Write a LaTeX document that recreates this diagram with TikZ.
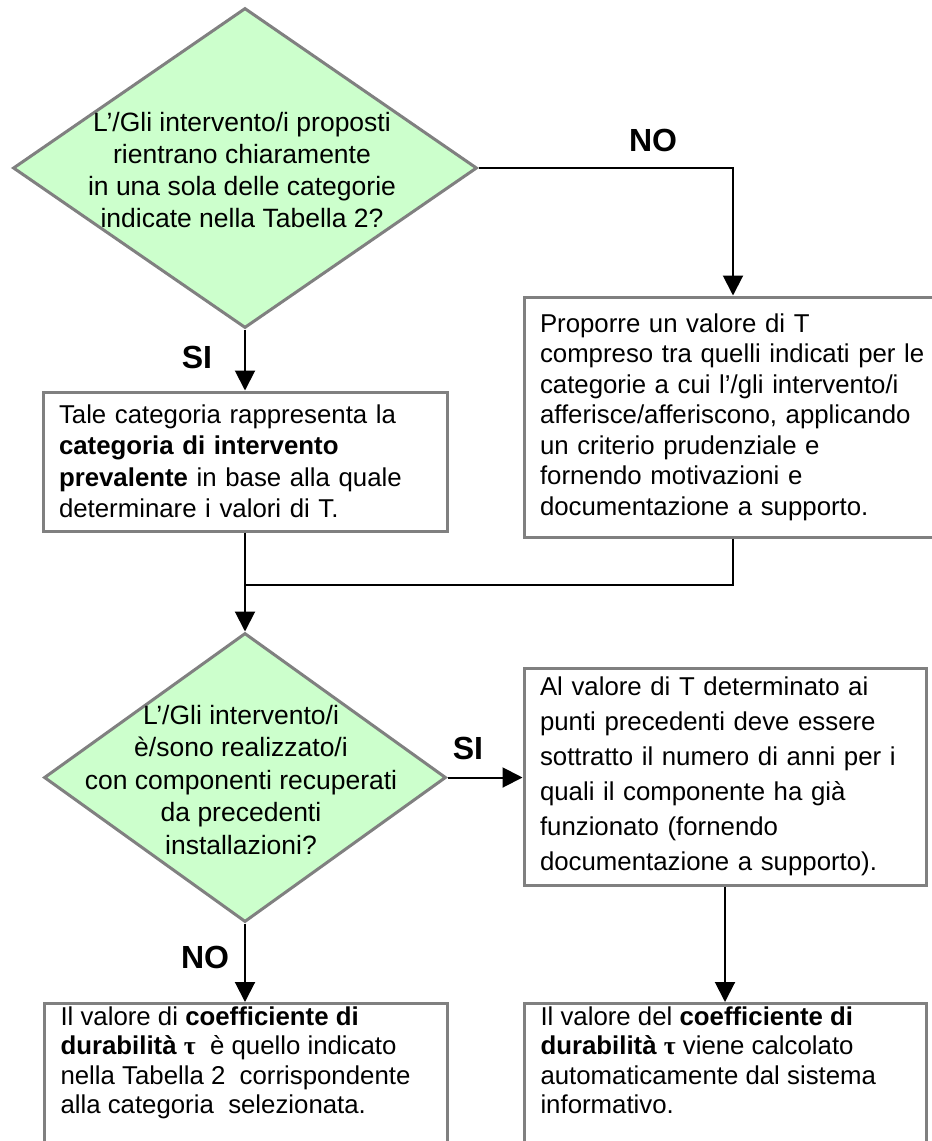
\documentclass[tikz,border=0pt]{standalone}
\usepackage{fontspec}
\setmainfont{Liberation Sans}
\newfontfamily\grkfont{Liberation Serif}
\usetikzlibrary{shapes.geometric,arrows.meta}
\definecolor{boxgray}{RGB}{128,128,128}
\definecolor{dgreen}{RGB}{204,255,204}
\newcommand{\tauB}{{\grkfont\bfseries τ}}
\begin{document}
\begin{tikzpicture}[x=1pt,y=-1pt,
  decision/.style={diamond, draw=boxgray, fill=dgreen, line width=3pt, inner sep=0pt},
  dtext/.style={align=center, inner sep=0pt},
  stepbox/.style={draw=boxgray, line width=3pt, fill=white, align=left, inner xsep=16pt, inner ysep=0pt},
  lbl/.style={font=\fontsize{32}{38}\selectfont\bfseries, inner sep=0pt},
  conn/.style={line width=2pt, draw=black},
  arr/.style={conn, -{Triangle[length=20pt,width=20pt]}}
]
\useasboundingbox (0,0) rectangle (932,1141);
\fill[white] (0,0) rectangle (932,1141);
\clip (0,0) rectangle (932,1141);

% first decision
\node[decision, minimum width=464pt, minimum height=320pt] (d1) at (245,168) {};
\node[dtext, font=\fontsize{26.5}{32}\selectfont] (d1t) at (242,170)
  {L’/Gli intervento/i proposti\\ rientrano chiaramente\\ in una sola delle categorie\\ indicate nella Tabella 2?};

% NO branch box
\node[stepbox, text width=386pt, minimum height=240pt, font=\fontsize{25.8}{30.5}\selectfont] (prop) at (733,417)
  {Proporre un valore di T\\ compreso tra quelli indicati per le\\ categorie a cui l’/gli intervento/i\\ afferisce/afferiscono, applicando\\ un criterio prudenziale e\\ fornendo motivazioni e\\ documentazione a supporto.};

% SI branch box
\node[stepbox, text width=372pt, minimum height=139pt, font=\fontsize{25.8}{31.5}\selectfont] (tale) at (245,461.5)
  {Tale categoria rappresenta la\\ \textbf{categoria di intervento}\\ \textbf{prevalente} in base alla quale\\ determinare i valori di T.};

% second decision
\node[decision, minimum width=402pt, minimum height=289pt] (d2) at (245,777.5) {};
\node[dtext, font=\fontsize{26.5}{32.5}\selectfont] (d2t) at (241,780)
  {L’/Gli intervento/i\\ è/sono realizzato/i\\ con componenti recuperati\\ da precedenti\\ installazioni?};

% SI branch box
\node[stepbox, text width=370pt, minimum height=217pt, font=\fontsize{25.8}{35}\selectfont] (alv) at (725,776.5)
  {Al valore di T determinato ai\\ punti precedenti deve essere\\ sottratto il numero di anni per i\\ quali il componente ha già\\ funzionato (fornendo\\ documentazione a supporto).};

% bottom boxes
\node[stepbox, anchor=north west, inner ysep=3pt] (bl) at (43,1002)
  {\parbox[c][170pt][t]{371pt}{\raggedright\fontsize{25.8}{29.5}\selectfont
   Il valore di \textbf{coefficiente di}\\ \textbf{durabilità} \tauB{}\ \ è quello indicato\\ nella Tabella 2\ \ corrispondente\\ alla categoria\ \ selezionata.}};
\node[stepbox, anchor=north west, inner ysep=3pt] (br) at (523,1002)
  {\parbox[c][170pt][t]{370pt}{\raggedright\fontsize{25.8}{29.5}\selectfont
   Il valore del \textbf{coefficiente di}\\ \textbf{durabilità} \tauB{} viene calcolato\\ automaticamente dal sistema\\ informativo.}};

% junction
\coordinate (j) at (245,585);

% connectors
\draw[arr] (d1.east) -| (prop.north);
\draw[arr] (d1.south) -- (tale.north);
\draw[arr] (tale.south) -- (d2.north);
\draw[conn] (prop.south) |- (j);
\draw[arr] (d2.east) -- (d2.east -| alv.west);
\draw[arr] (d2.south) -- (d2.south |- bl.north);
\draw[arr] (alv.south) -- (alv.south |- br.north);

% labels
\node[lbl] (no1) at (653,140) {NO};
\node[lbl] (si1) at (197,357) {SI};
\node[lbl] (si2) at (468,748) {SI};
\node[lbl] (no2) at (205,957) {NO};
\end{tikzpicture}
\end{document}
